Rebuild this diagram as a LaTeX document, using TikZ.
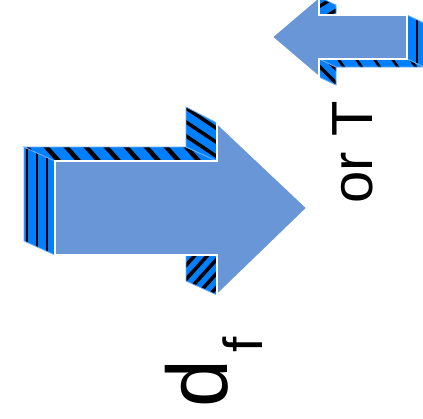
\documentclass[tikz,border=0pt]{standalone}
\usepackage{fontspec}
\setmainfont{Liberation Sans}
\definecolor{mainblue}{RGB}{104,150,214}
\definecolor{sideblue}{RGB}{0,128,255}
\definecolor{edgeblue}{RGB}{110,175,255}
\begin{document}
\begin{tikzpicture}[x=1pt,y=-1pt,
  mainface/.style={fill=mainblue, draw=white, line width=1.6pt, line join=miter},
  sideedge/.style={draw=edgeblue, line width=0.8pt},
  stripe/.style={black, line width=3pt},
  label/.style={rotate=90, anchor=base west, inner sep=0pt}]
\useasboundingbox (0,0) rectangle (423,418);

% ---------- big arrow: side faces ----------
% left end face
\begin{scope}
\clip (24,147) -- (55,161) -- (55,255) -- (24,241) -- cycle;
\fill[sideblue] (0,100) rectangle (100,300);
\foreach \x in {27,37,47} \draw[stripe, line width=2.6pt] (\x,100) -- (\x,300);
\end{scope}
\draw[sideedge] (24,147) -- (55,161) -- (55,255) -- (24,241) -- cycle;
% top face
\begin{scope}
\clip (24,147) -- (186,147) -- (217,161) -- (55,161) -- cycle;
\fill[sideblue] (0,100) rectangle (250,200);
\foreach \x in {0,20,...,220} \draw[stripe, line width=4.5pt] (\x,140) -- ({\x+25},168);
\end{scope}
\draw[sideedge] (24,147) -- (186,147) -- (217,161) -- (55,161) -- cycle;
% top barb face
\begin{scope}
\clip (186,107) -- (217,123) -- (217,161) -- (186,147) -- cycle;
\fill[sideblue] (150,90) rectangle (250,200);
\foreach \y in {76,90,...,170} \draw[stripe, line width=3.6pt] (180,\y) -- (225,{\y+30});
\end{scope}
\draw[sideedge] (186,107) -- (217,123) -- (217,161) -- (186,147) -- cycle;
% bottom barb face
\begin{scope}
\clip (186,241) -- (217,255) -- (217,295) -- (186,281) -- cycle;
\fill[sideblue] (150,230) rectangle (250,320);
\foreach \y in {244,258,...,340} \draw[stripe, line width=3.6pt] (180,\y) -- (225,{\y-50});
\end{scope}
\draw[sideedge] (186,241) -- (217,255) -- (217,295) -- (186,281) -- cycle;
% main face
\draw[mainface] (307,208) -- (217,123) -- (217,161) -- (55,161) -- (55,255)
  -- (217,255) -- (217,295) -- cycle;

% ---------- small arrow: side faces ----------
% right end face
\begin{scope}
\clip (407,15) -- (424,23) -- (424,67) -- (407,59) -- cycle;
\fill[sideblue] (400,0) rectangle (430,80);
\draw[stripe, line width=2.2pt] (417,0) -- (417,80);
\end{scope}
\draw[sideedge] (407,15) -- (424,23) -- (424,67) -- (407,59) -- cycle;
% bottom face
\begin{scope}
\clip (319,59) -- (407,59) -- (424,67) -- (336,67) -- cycle;
\fill[sideblue] (300,50) rectangle (430,80);
\foreach \x in {300,318,...,430} \draw[stripe, line width=2.6pt] (\x,56) -- ({\x+10},70);
\end{scope}
\draw[sideedge] (319,59) -- (407,59) -- (424,67) -- (336,67) -- cycle;
% top barb face
\begin{scope}
\clip (319,-3) -- (336,5) -- (336,23) -- (319,15) -- cycle;
\fill[sideblue] (310,-10) rectangle (345,30);
\foreach \y in {-6,8,...,40} \draw[stripe, line width=3.4pt] (315,{\y+15}) -- (340,\y);
\end{scope}
\draw[sideedge] (319,-3) -- (336,5) -- (336,23) -- (319,15) -- cycle;
% bottom barb face
\begin{scope}
\clip (319,59) -- (336,67) -- (336,85) -- (319,77) -- cycle;
\fill[sideblue] (310,50) rectangle (345,95);
\foreach \y in {48,62,...,100} \draw[stripe, line width=3.4pt] (315,\y) -- (340,{\y+25});
\end{scope}
\draw[sideedge] (319,59) -- (336,67) -- (336,85) -- (319,77) -- cycle;
% main face
\draw[mainface] (272,37) -- (319,-3) -- (319,15) -- (407,15) -- (407,59)
  -- (319,59) -- (319,77) -- cycle;

% ---------- labels ----------
\node[label] (orT) at (372,204) {\fontsize{58}{58}\selectfont or T};
\node[label] (df) at (227,408) {\fontsize{86}{86}\selectfont d\hspace{7pt}\raisebox{-35pt}{\fontsize{55}{55}\selectfont f}};
\end{tikzpicture}
\end{document}
